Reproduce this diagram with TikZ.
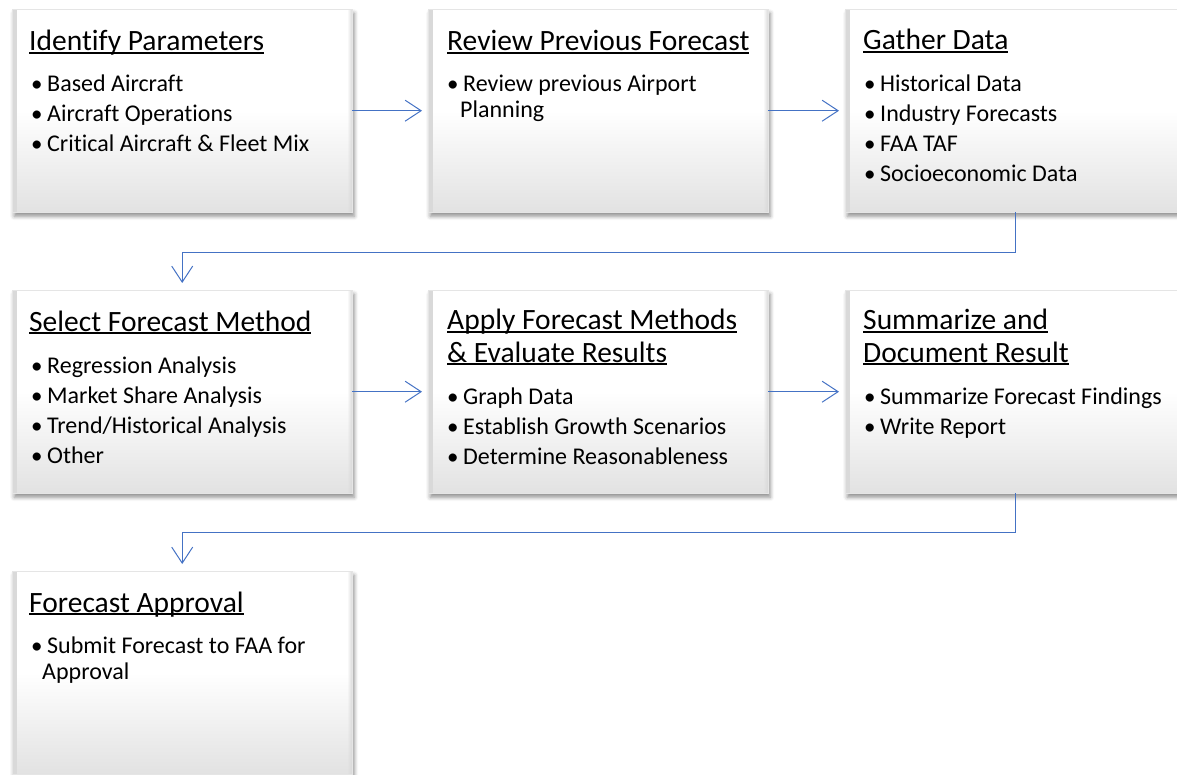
\documentclass[tikz,border=0pt]{standalone}
\usepackage{fontspec}
\setmainfont{Carlito}[Ligatures=NoCommon]
\usetikzlibrary{arrows.meta, positioning, calc, shadows.blur, fadings}

\definecolor{flowblue}{HTML}{4472C4}
\definecolor{boxgray}{HTML}{E2E2E2}

% underlined heading, rule crossing the descenders
\newcommand{\headul}[1]{\sbox0{#1}\rlap{\rule[-2.8pt]{\wd0}{1.5pt}}\usebox0}
\newcommand{\itemdot}{\makebox[16pt][l]{\fontsize{23}{24}\selectfont\textbullet}}

\begin{document}
\begin{tikzpicture}[
    x=1pt, y=-1pt,
    flowbox/.style={minimum width=340pt, minimum height=203pt, inner sep=0pt, anchor=north west,
        top color=white, bottom color=boxgray, middle color=white, draw=gray!20, line width=0.4pt,
        blur shadow={shadow xshift=2pt, shadow yshift=-4pt, shadow blur radius=4pt, shadow opacity=45},
        path picture={
            \fill[gray!30, path fading=east] (path picture bounding box.north west) rectangle ([xshift=5pt]path picture bounding box.south west);
            \fill[gray!30, path fading=west] ([xshift=-5pt]path picture bounding box.north east) rectangle (path picture bounding box.south east);
        }},
    ttl/.style={font=\fontsize{29.5}{36}\selectfont, anchor=base west, inner sep=0pt},
    itm/.style={font=\fontsize{24}{29}\selectfont, anchor=base west, inner sep=0pt},
    flow/.style={draw=flowblue, line width=1.3pt, -{Straight Barb[length=16pt, width=21pt, line width=1pt]}, shorten >=6pt},
]
\useasboundingbox (0,0) rectangle (1177,775);

% first row
\node[flowbox] (identify) at (12,9) {};
\node[ttl] (identify-title) at (29,51) {\headul{Identify Parameters}};
\node[itm] (identify-1) at (31,92) {\itemdot Based Aircraft};
\node[itm] (identify-2) at (31,122) {\itemdot Aircraft Operations};
\node[itm] (identify-3) at (31,152) {\itemdot Critical Aircraft \& Fleet Mix};

\node[flowbox] (review) at (428,9) {};
\node[ttl] (review-title) at (447,51) {\headul{Review Previous Forecast}};
\node[itm] (review-1) at (447,92) {\itemdot Review previous Airport};
\node[itm] (review-1b) at (460,118) {Planning};

\node[flowbox] (gather) at (845,9) {};
\node[ttl] (gather-title) at (863,50) {\headul{Gather Data}};
\node[itm] (gather-1) at (864,92) {\itemdot Historical Data};
\node[itm] (gather-2) at (864,122) {\itemdot Industry Forecasts};
\node[itm] (gather-3) at (864,152) {\itemdot FAA TAF};
\node[itm] (gather-4) at (864,182) {\itemdot Socioeconomic Data};

% second row
\node[flowbox] (select) at (12,290) {};
\node[ttl] (select-title) at (29,331) {\headul{Select Forecast Method}};
\node[itm] (select-1) at (31,373) {\itemdot Regression Analysis};
\node[itm] (select-2) at (31,403) {\itemdot Market Share Analysis};
\node[itm] (select-3) at (31,433) {\itemdot Trend/Historical Analysis};
\node[itm] (select-4) at (31,463) {\itemdot Other};

\node[flowbox] (apply) at (428,290) {};
\node[ttl] (apply-title) at (447,330) {\headul{Apply Forecast Methods}};
\node[ttl] (apply-title2) at (447,362) {\headul{\& Evaluate Results}};
\node[itm] (apply-1) at (447,404) {\itemdot Graph Data};
\node[itm] (apply-2) at (447,434) {\itemdot Establish Growth Scenarios};
\node[itm] (apply-3) at (447,464) {\itemdot Determine Reasonableness};

\node[flowbox] (summarize) at (845,290) {};
\node[ttl] (summarize-title) at (863,330) {\headul{Summarize and}};
\node[ttl] (summarize-title2) at (863,362) {\headul{Document Result}};
\node[itm] (summarize-1) at (864,404) {\itemdot Summarize Forecast Findings};
\node[itm] (summarize-2) at (864,434) {\itemdot Write Report};

% third row
\node[flowbox] (approval) at (12,571) {};
\node[ttl] (approval-title) at (29,612) {\headul{Forecast Approval}};
\node[itm] (approval-1) at (31,653) {\itemdot Submit Forecast to FAA for};
\node[itm] (approval-1b) at (42,679) {Approval};

% connectors
\draw[flow] (identify.east) -- (review.west);
\draw[flow] (review.east) -- (gather.west);
\draw[flow, shorten >=7pt] (gather.south) -- ++(0,40) -| (select.north);
\draw[flow] (select.east) -- (apply.west);
\draw[flow] (apply.east) -- (summarize.west);
\draw[flow, shorten >=7pt] (summarize.south) -- ++(0,39) -| (approval.north);

\end{tikzpicture}
\end{document}
